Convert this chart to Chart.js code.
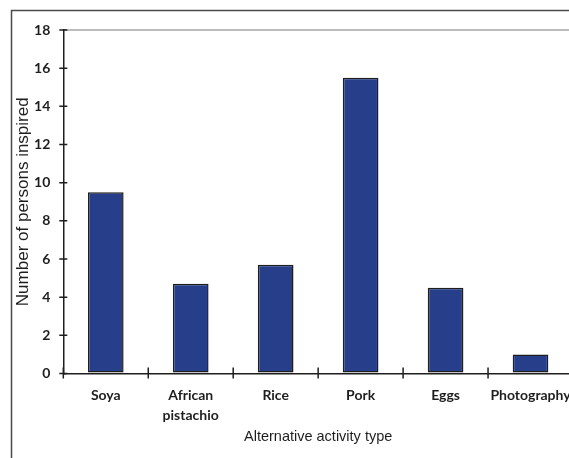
<!DOCTYPE html>
<html>
<head>
<meta charset="utf-8">
<script src="https://cdn.jsdelivr.net/npm/chart.js@4/dist/chart.umd.min.js"></script>
<style>
  html, body { margin: 0; padding: 0; background: #fff; overflow: hidden; }
  #wrap { position: relative; width: 569px; height: 458px; overflow: hidden; }
  #chart { position: absolute; left: 0; top: 0; }
</style>
</head>
<body>
<div id="wrap">
  <canvas id="chart" width="580" height="458"></canvas>
</div>
<script>
// Activities and how many persons each one inspired
const categories = ['Soya', ['African', 'pistachio'], 'Rice', 'Pork', 'Eggs', 'Photography'];
const personsInspired = [9.5, 4.7, 5.7, 15.5, 4.5, 1.0];
const yMin = 0;
const yMax = 18;
const yStep = 2;

const INK = '#1e1e1e';

// Outer frame around the figure (top and left edges)
const figureFrame = {
  id: 'figureFrame',
  beforeDraw(chart) {
    const ctx = chart.ctx;
    ctx.save();
    ctx.strokeStyle = '#4a4a4a';
    ctx.lineWidth = 1.5;
    ctx.beginPath();
    ctx.moveTo(11.5, chart.height + 2);
    ctx.lineTo(11.5, 10.5);
    ctx.lineTo(chart.width + 2, 10.5);
    ctx.stroke();
    ctx.restore();
  }
};

// Short tick marks that cross the axis lines, as in classic spreadsheet charts
const crossTicks = {
  id: 'crossTicks',
  afterDraw(chart) {
    const ctx = chart.ctx;
    const xs = chart.scales.x;
    const ys = chart.scales.y;
    const x0 = chart.chartArea.left;
    const y0 = chart.chartArea.bottom;
    ctx.save();
    ctx.strokeStyle = INK;
    ctx.lineWidth = 1.5;
    ctx.beginPath();
    ys.ticks.forEach(t => {
      const y = ys.getPixelForValue(t.value);
      ctx.moveTo(x0 - 4, y);
      ctx.lineTo(x0 + 4, y);
    });
    const n = categories.length;
    const half = (xs.getPixelForValue(1) - xs.getPixelForValue(0)) / 2;
    for (let i = 0; i <= n; i++) {
      const x = i < n ? xs.getPixelForValue(i) - half : xs.getPixelForValue(n - 1) + half;
      ctx.moveTo(x, y0 - 6);
      ctx.lineTo(x, y0 + 5);
    }
    ctx.stroke();
    ctx.restore();
  }
};

new Chart(document.getElementById('chart'), {
  type: 'bar',
  data: {
    labels: categories,
    datasets: [{
      data: personsInspired,
      backgroundColor: '#273f8b',
      borderColor: INK,
      borderWidth: 1.5,
      borderSkipped: false,
      barPercentage: 0.42,
      categoryPercentage: 1.0
    }]
  },
  options: {
    responsive: false,
    animation: false,
    layout: { padding: { top: 30, right: 7, bottom: 0, left: 0 } },
    plugins: { legend: { display: false }, tooltip: { enabled: false } },
    scales: {
      x: {
        grid: { display: false, drawTicks: false },
        border: { display: true, color: INK, width: 1.5 },
        ticks: {
          color: INK,
          padding: 12,
          maxRotation: 0,
          autoSkip: false,
          font: { family: 'Lato', size: 14, weight: 'bold', lineHeight: 1.45 }
        },
        title: {
          display: true,
          text: 'Alternative activity type',
          color: INK,
          padding: { top: 0, bottom: 12 },
          font: { family: 'Liberation Sans', size: 14.5, lineHeight: 1.2 }
        },
        afterFit(scale) {
          scale.height = 84.5;
          scale.paddingLeft = 0;
          scale.paddingRight = 0;
        }
      },
      y: {
        min: yMin,
        max: yMax,
        grid: {
          drawTicks: false,
          lineWidth: 2,
          color: c => (c.tick && c.tick.value === yMax) ? '#bdbdbd' : 'rgba(0,0,0,0)'
        },
        border: { display: true, color: INK, width: 1.5 },
        ticks: {
          stepSize: yStep,
          color: INK,
          padding: 13,
          font: { family: 'Lato', size: 14, weight: 'bold' }
        },
        title: {
          display: true,
          text: 'Number of persons inspired',
          color: INK,
          padding: { top: 13, bottom: 0 },
          font: { family: 'Liberation Sans', size: 17, lineHeight: 1.2 }
        },
        afterFit(scale) { scale.width = 63.3; }
      }
    }
  },
  plugins: [figureFrame, crossTicks]
});
</script>
</body>
</html>
